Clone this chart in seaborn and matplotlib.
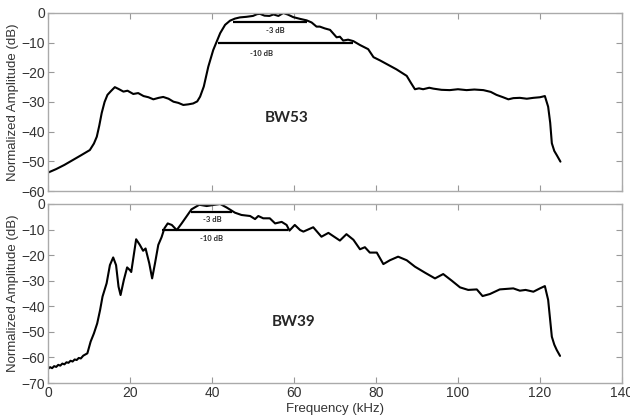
import numpy as np
import pandas as pd
import matplotlib
matplotlib.use("Agg")
import matplotlib.pyplot as plt
import seaborn as sns

# BW53 spectrum (kHz, dB)
bw53_freq = [0, 2, 4, 6, 8, 10.2, 11.2, 11.9, 12.5, 13.1, 13.8, 14.5, 15.3, 16.3, 17.2, 18.4, 19.4, 20.8,
             22.0, 23.3, 24.5, 25.7, 27.0, 28.1, 29.4, 30.6, 31.8, 33.0, 34.2, 35.4, 36.4, 37.1, 38.0, 39.1,
             40.3, 42.0, 43.2, 44.4, 45.6, 46.8, 48.4, 50.0, 51.0, 51.7, 52.8, 54.0, 55.0, 56.2, 57.4,
             58.6, 59.8, 61.5, 63.1, 64.3, 65.5, 66.3, 67.5, 68.8, 70.4, 71.2, 72.0, 73.2, 74.5, 76.1,
             78.1, 79.4, 81.0, 82.6, 85.0, 87.5, 88.5, 89.5, 90.5, 91.5, 93.0, 94.0, 96.0, 98.0, 100.0,
             102.1, 104.0, 106.2, 108.0, 109.4, 111.0, 112.3, 113.5, 115.1, 116.8, 118.4, 120.0, 121.2,
             122.0, 122.5, 122.9, 123.5, 124.1, 125.0]
bw53_db = [-53.8, -52.6, -51.2, -49.6, -48.0, -46.2, -44.0, -41.7, -38.0, -33.7, -30.0, -27.6, -26.4, -25.0,
           -25.6, -26.5, -26.2, -27.3, -27.0, -28.0, -28.4, -29.1, -28.6, -28.3, -28.9, -29.9, -30.3, -31.0,
           -30.8, -30.5, -29.8, -28.2, -24.8, -18.1, -12.5, -6.8, -4.0, -2.6, -1.9, -1.5, -1.3, -1.0, -0.4,
           -0.3, -0.9, -1.0, -0.5, -1.0, 0.0, -0.6, -1.4, -2.0, -2.5, -3.2, -4.6, -4.6, -5.2, -5.7, -8.2,
           -8.0, -9.3, -9.0, -9.5, -10.8, -12.2, -14.9, -16.0, -17.2, -19.0, -21.2, -23.5, -25.7, -25.4,
           -25.7, -25.2, -25.5, -25.9, -26.0, -25.7, -26.0, -25.8, -26.0, -26.6, -27.6, -28.4, -29.1,
           -28.7, -28.6, -28.9, -28.6, -28.4, -28.0, -31.6, -37.0, -43.9, -46.5, -47.9, -50.1]

# BW39 spectrum (kHz, dB)
bw39_freq = [0, 0.5, 1, 1.5, 2, 2.5, 3, 3.5, 4, 4.5, 5, 5.5, 6, 6.5, 7, 7.5, 8, 8.6, 9.6, 10.4, 11.2, 12.0,
             12.7, 13.3, 14.3, 15.1, 15.9, 16.6, 17.2, 17.7, 18.5, 19.3, 20.0, 20.3, 21.5, 22.4, 23.2,
             23.8, 24.7, 25.4, 26.1, 26.9, 27.7, 28.4, 29.2, 30.2, 31.4, 32.6, 35.0, 36.9, 38.7, 40.3,
             42.0, 43.6, 45.6, 47.2, 49.3, 50.5, 51.3, 52.5, 54.1, 55.4, 57.0, 58.2, 58.9, 60.2, 61.5,
             62.3, 64.7, 66.7, 68.4, 71.2, 72.8, 74.5, 76.1, 77.3, 78.5, 80.2, 81.8, 83.4, 85.4, 87.5,
             89.5, 92.0, 94.4, 96.4, 98.5, 100.5, 102.5, 104.6, 106.0, 107.8, 110.2, 113.5, 115.1, 116.5,
             118.4, 120.0, 121.2, 122.0, 122.9, 123.5, 124.1, 124.9]
bw39_db = [-64.5, -63.8, -64.2, -63.4, -63.7, -62.9, -63.2, -62.4, -62.7, -61.9, -62.1, -61.3, -61.6, -60.8,
           -61.0, -60.2, -60.4, -59.3, -58.4, -53.8, -50.6, -46.7, -41.5, -36.2, -31.0, -23.9, -20.9,
           -23.9, -32.3, -35.6, -29.7, -24.8, -25.9, -26.6, -13.8, -16.0, -18.3, -17.4, -23.2, -29.1,
           -23.2, -16.0, -13.0, -9.5, -7.6, -8.2, -10.2, -7.6, -2.1, -0.3, -0.8, -0.4, 0.0, -1.4, -3.4,
           -4.3, -4.7, -5.9, -4.7, -5.6, -5.6, -7.6, -7.0, -8.2, -10.4, -8.2, -10.2, -10.8, -9.1, -12.8,
           -11.3, -14.3, -11.8, -14.0, -17.7, -16.9, -19.0, -19.0, -23.5, -22.0, -20.6, -22.0, -24.5,
           -26.9, -29.1, -27.4, -30.0, -32.6, -33.6, -33.4, -36.0, -35.2, -33.4, -33.0, -33.9, -33.6,
           -34.3, -33.0, -32.1, -37.5, -51.9, -55.0, -57.1, -59.4]

# bandwidth markers: level, start, end
bw53_levels = [-3, -10]
bw53_start = [45.2, 41.5]
bw53_end = [63.1, 74.5]
bw39_levels = [-3, -10]
bw39_start = [35.0, 27.9]
bw39_end = [44.8, 58.6]

panels = [
    ("BW53", bw53_freq, bw53_db, bw53_levels, bw53_start, bw53_end, (-60, 0), (58.2, -35.4), (55.4, 52.0)),
    ("BW39", bw39_freq, bw39_db, bw39_levels, bw39_start, bw39_end, (-70, 0), (59.8, -46.0), (40.0, 40.0)),
]

sns.set_style("ticks")
plt.rcParams["font.family"] = ["Liberation Sans", "DejaVu Sans"]

fig = plt.figure(figsize=(6.3, 4.18), dpi=100)
ax_top = fig.add_axes([0.0762, 0.543, 0.911, 0.426])
ax_bot = fig.add_axes([0.0762, 0.0837, 0.911, 0.4283])

for ax, (name, f, db, lv, st, en, ylim, lab, txt_x) in zip([ax_top, ax_bot], panels):
    df = pd.DataFrame({"freq": f, "db": db})
    sns.lineplot(data=df, x="freq", y="db", ax=ax, color="black", linewidth=1.5, sort=False)
    ax.hlines(lv, st, en, color="black", linewidth=1.6)
    ax.text(txt_x[0], lv[0] - 3.0, "-3 dB", fontsize=5.5, fontweight="bold", ha="center", va="center",
            family=["Lato", "DejaVu Sans"])
    ax.text(txt_x[1], lv[1] - 3.6, "-10 dB", fontsize=5.5, fontweight="bold", ha="center", va="center",
            family=["Lato", "DejaVu Sans"])
    ax.text(lab[0], lab[1], name, fontsize=11, fontweight="bold", ha="center", va="center",
            family=["Lato", "DejaVu Sans"])
    ax.set_xlim(0, 140)
    ax.set_ylim(*ylim)
    ax.set_xticks(np.arange(0, 141, 20))
    ax.set_yticks(np.arange(ylim[0], 1, 10))
    ax.set_ylabel("Normalized Amplitude (dB)", fontsize=9.5, color="#333333", labelpad=2)
    ax.tick_params(direction="in", top=True, right=True, length=4, color="#999999",
                   labelsize=10, labelcolor="#333333", pad=2)
    for s in ax.spines.values():
        s.set_color("#aaaaaa")
        s.set_linewidth(1.0)

ax_top.set_xlabel("")
ax_top.set_xticklabels([])
ax_bot.set_xlabel("Frequency (kHz)", fontsize=9.5, color="#333333", labelpad=2)

fig.savefig("out.png", dpi=100)
